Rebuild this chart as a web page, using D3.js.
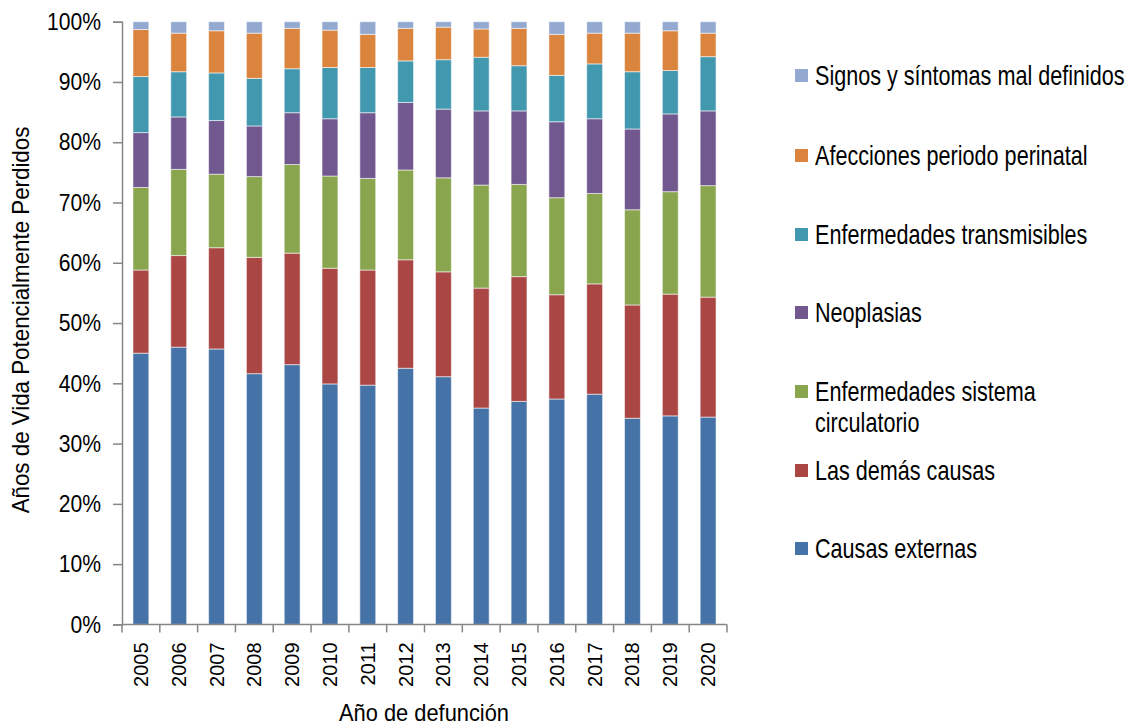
<!DOCTYPE html>
<html>
<head>
<meta charset="utf-8">
<script src="https://cdn.jsdelivr.net/npm/d3@7"></script>
<style>
  body { margin: 0; background: #fff; }
  text { font-family: "Liberation Sans Narrow", "Arial Narrow", "Liberation Sans", sans-serif; fill: #000; }
</style>
</head>
<body>
<svg id="chart" width="1133" height="728"></svg>
<script>
// years on the x axis
const years = ["2005","2006","2007","2008","2009","2010","2011","2012","2013","2014","2015","2016","2017","2018","2019","2020"];

// series, bottom to top (percent of total)
const causasExternas   = [45.0, 46.0, 45.7, 41.6, 43.1, 39.9, 39.7, 42.5, 41.1, 35.9, 37.0, 37.4, 38.2, 34.2, 34.6, 34.4];
const lasDemas         = [13.8, 15.2, 16.8, 19.3, 18.5, 19.2, 19.1, 18.0, 17.4, 19.9, 20.7, 17.3, 18.3, 18.8, 20.2, 19.9];
const circulatorio     = [13.7, 14.3, 12.2, 13.4, 14.7, 15.3, 15.2, 14.9, 15.6, 17.1, 15.3, 16.1, 15.0, 15.8, 17.0, 18.5];
const neoplasias       = [ 9.1,  8.7,  8.9,  8.4,  8.6,  9.5, 10.9, 11.2, 11.4, 12.3, 12.2, 12.6, 12.4, 13.4, 12.9, 12.4];
const transmisibles    = [ 9.3,  7.5,  7.9,  7.9,  7.3,  8.5,  7.5,  6.9,  8.2,  8.9,  7.5,  7.7,  9.1,  9.5,  7.2,  9.0];
const perinatal        = [ 7.8,  6.4,  7.0,  7.5,  6.7,  6.2,  5.5,  5.4,  5.4,  4.7,  6.2,  6.8,  5.1,  6.4,  6.6,  3.9];
const malDefinidos     = [ 1.3,  1.9,  1.5,  1.9,  1.1,  1.4,  2.1,  1.1,  0.9,  1.2,  1.1,  2.1,  1.9,  1.9,  1.5,  1.9];

const seriesNames = ["Causas externas", "Las demás causas", "Enfermedades sistema circulatorio",
  "Neoplasias", "Enfermedades transmisibles", "Afecciones periodo perinatal", "Signos y síntomas mal definidos"];
const seriesValues = [causasExternas, lasDemas, circulatorio, neoplasias, transmisibles, perinatal, malDefinidos];
const colors = ["#4572A7", "#AA4643", "#89A54E", "#71588F", "#4198AF", "#DB843D", "#93A9CF"];

// legend label lines (top to bottom in the legend)
const legendLines = [
  ["Signos y síntomas mal definidos"],
  ["Afecciones periodo perinatal"],
  ["Enfermedades transmisibles"],
  ["Neoplasias"],
  ["Enfermedades sistema", "circulatorio"],
  ["Las demás causas"],
  ["Causas externas"]
];

const yTicks = [0, 0.1, 0.2, 0.3, 0.4, 0.5, 0.6, 0.7, 0.8, 0.9, 1];

// build table for the stack
const table = years.map((yr, i) => {
  const row = { year: yr };
  seriesNames.forEach((n, k) => row[n] = seriesValues[k][i]);
  return row;
});

// no narrow font installed: squeeze the glyphs to get the same look
function condense(sel, f) {
  sel.each(function() {
    const w = this.getComputedTextLength();
    d3.select(this).attr("textLength", w * f).attr("lengthAdjust", "spacingAndGlyphs");
  });
}

const svg = d3.select("#chart");
const mLeft = 122, mTop = 21.7, plotW = 605, plotH = 602.7;

const x = d3.scaleBand().domain(years).range([mLeft, mLeft + plotW]).paddingInner(0.58).paddingOuter(0.29);
const y = d3.scaleLinear().domain([0, 1]).range([mTop + plotH, mTop]);
const color = d3.scaleOrdinal().domain(seriesNames).range(colors);

const stacked = d3.stack().keys(seriesNames).offset(d3.stackOffsetExpand)(table);

svg.append("g")
  .selectAll("g")
  .data(stacked)
  .join("g")
  .attr("fill", d => color(d.key))
  .selectAll("rect")
  .data(d => d)
  .join("rect")
  .attr("x", d => x(d.data.year))
  .attr("y", d => y(d[1]))
  .attr("width", x.bandwidth())
  .attr("height", d => y(d[0]) - y(d[1]))
  .attr("stroke", "rgba(255,255,255,0.55)")
  .attr("stroke-width", 1);

// y axis
const yAxis = svg.append("g")
  .attr("transform", `translate(${mLeft},0)`)
  .call(d3.axisLeft(y).tickValues(yTicks).tickFormat(d3.format(".0%")).tickSize(9).tickPadding(12));
yAxis.select(".domain").attr("stroke", "#868686").attr("stroke-width", 1.5);
yAxis.selectAll(".tick line").attr("stroke", "#868686").attr("stroke-width", 1.5);
yAxis.selectAll(".tick text").style("font-size", "24px").call(condense, 0.88);

// x axis
const band = x.step();
const xAxis = svg.append("g").attr("transform", `translate(0,${mTop + plotH})`);
xAxis.append("line")
  .attr("x1", mLeft).attr("x2", mLeft + plotW)
  .attr("stroke", "#868686").attr("stroke-width", 1.5);
xAxis.selectAll("line.tk")
  .data(years.concat(["end"]))
  .join("line")
  .attr("class", "tk")
  .attr("x1", (d, i) => mLeft + i * band)
  .attr("x2", (d, i) => mLeft + i * band)
  .attr("y1", 0).attr("y2", 8)
  .attr("stroke", "#868686").attr("stroke-width", 1.5);
xAxis.selectAll("text")
  .data(years)
  .join("text")
  .attr("transform", d => `translate(${x(d) + x.bandwidth() / 2},18) rotate(-90)`)
  .attr("text-anchor", "end")
  .attr("dy", "0.35em")
  .style("font-size", "20px")
  .text(d => d);

// axis titles
svg.append("text")
  .attr("transform", "translate(29,320) rotate(-90)")
  .attr("text-anchor", "middle")
  .style("font-size", "24px")
  .text("Años de Vida Potencialmente Perdidos")
  .call(condense, 0.93);

svg.append("text")
  .attr("x", 424)
  .attr("y", 721)
  .attr("text-anchor", "middle")
  .style("font-size", "24px")
  .text("Año de defunción")
  .call(condense, 0.91);

// legend
const legendY = [76, 156, 235, 313, 392, 471, 549];
const legend = svg.append("g");
legendLines.forEach((lines, i) => {
  const g = legend.append("g").attr("transform", `translate(795,${legendY[i]})`);
  g.append("rect")
    .attr("x", 0).attr("y", -7).attr("width", 13).attr("height", 13)
    .attr("fill", colors[colors.length - 1 - i]);
  lines.forEach((t, j) => {
    g.append("text")
      .attr("transform", `translate(20,${j * 31}) scale(0.8,1)`)
      .attr("dy", "0.35em")
      .style("font-size", "27px")
      .text(t);
  });
});
</script>
</body>
</html>
